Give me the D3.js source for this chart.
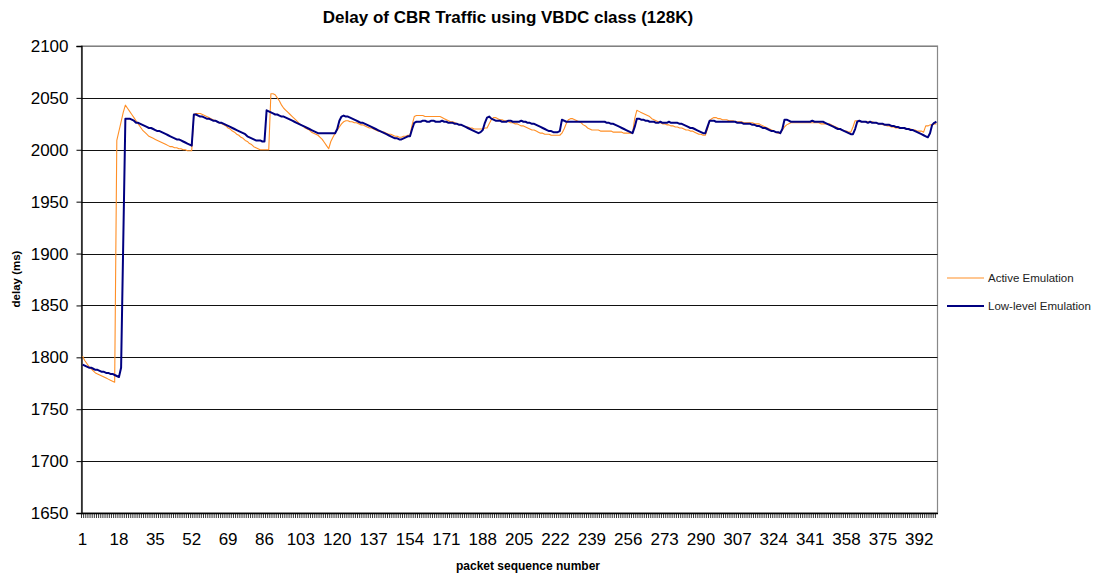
<!DOCTYPE html>
<html>
<head>
<meta charset="utf-8">
<script src="https://cdn.jsdelivr.net/npm/d3@7"></script>
<style>
  html, body { margin: 0; padding: 0; background: #fff; }
  svg { display: block; font-family: "Liberation Sans", Arial, sans-serif; }
</style>
</head>
<body>
<svg id="chart" width="1096" height="575"></svg>
<script>
// Packet sequence numbers 1..400
const packets = d3.range(1, 401);

// Delay (ms) per packet, Active Emulation
const activeEmulation = [
  1801,1797,1794,1791,1789,1787,1785,1784,1783,1782,
  1781,1780,1779,1778,1777,1776,2009,2018,2027,2036,
  2043,2040,2037,2034,2031,2028,2025,2022,2019,2017,
  2015,2013,2012,2011,2010,2009,2008,2007,2006,2005,
  2004,2003,2003,2002,2002,2001,2001,2000,2000,1999,
  1999,1999,2034,2035,2035,2035,2034,2033,2032,2031,
  2030,2029,2028,2027,2026,2025,2024,2023,2021,2020,
  2018,2017,2015,2014,2012,2011,2009,2008,2006,2005,
  2003,2002,2001,2000,2000,2000,2000,2000,2054,2054,
  2053,2050,2047,2043,2040,2038,2036,2034,2032,2030,
  2028,2026,2024,2023,2021,2020,2019,2017,2016,2015,
  2014,2012,2010,2007,2004,2001,2008,2012,2016,2019,
  2022,2025,2027,2028,2028,2027,2027,2026,2026,2025,
  2024,2024,2023,2022,2021,2021,2020,2019,2018,2018,
  2017,2017,2016,2015,2015,2014,2013,2013,2012,2012,
  2013,2013,2014,2014,2024,2032,2033,2033,2033,2033,
  2032,2032,2032,2032,2032,2032,2032,2032,2031,2030,
  2029,2028,2027,2027,2026,2025,2024,2024,2023,2022,
  2022,2021,2021,2020,2020,2020,2020,2020,2021,2021,
  2025,2029,2031,2031,2030,2029,2029,2028,2028,2027,
  2026,2026,2025,2025,2024,2023,2023,2022,2021,2020,
  2019,2019,2018,2017,2016,2016,2015,2015,2015,2014,
  2014,2014,2014,2014,2016,2020,2025,2029,2030,2030,
  2029,2028,2027,2026,2024,2023,2021,2020,2019,2019,
  2019,2019,2018,2018,2018,2018,2018,2018,2017,2017,
  2017,2017,2017,2016,2016,2016,2016,2016,2030,2038,
  2037,2036,2035,2034,2033,2032,2030,2029,2028,2027,
  2026,2025,2025,2024,2024,2023,2023,2022,2022,2021,
  2021,2020,2019,2019,2018,2018,2017,2016,2015,2015,
  2014,2014,2020,2028,2030,2031,2031,2030,2030,2029,
  2029,2029,2028,2028,2028,2027,2027,2027,2027,2026,
  2026,2026,2026,2026,2025,2025,2025,2024,2023,2022,
  2021,2020,2019,2018,2017,2016,2016,2019,2022,2024,
  2025,2026,2026,2026,2026,2026,2026,2026,2026,2026,
  2026,2026,2026,2026,2026,2025,2025,2025,2025,2025,
  2024,2023,2022,2021,2020,2019,2018,2018,2017,2017,
  2022,2028,2028,2027,2027,2027,2027,2027,2027,2027,
  2026,2026,2025,2025,2024,2024,2023,2023,2022,2022,
  2021,2021,2021,2021,2021,2020,2020,2020,2019,2019,
  2018,2018,2018,2017,2023,2023,2024,2024,2025,2025
];

// Delay (ms) per packet, Low-level Emulation
const lowLevelEmulation = [
  1793,1792,1791,1790,1790,1789,1788,1788,1787,1786,
  1786,1785,1785,1784,1784,1783,1782,1781,1790,1910,
  2030,2030,2030,2029,2028,2026,2026,2025,2024,2023,
  2022,2021,2021,2020,2019,2018,2018,2017,2016,2015,
  2014,2013,2012,2011,2010,2010,2009,2008,2007,2006,
  2005,2004,2034,2034,2033,2032,2032,2031,2030,2030,
  2029,2028,2028,2027,2026,2026,2025,2024,2023,2022,
  2021,2020,2019,2018,2017,2016,2015,2013,2012,2011,
  2010,2009,2009,2009,2008,2008,2038,2037,2036,2035,
  2034,2034,2033,2032,2032,2031,2030,2029,2028,2027,
  2026,2025,2024,2023,2022,2021,2020,2019,2018,2017,
  2016,2016,2016,2016,2016,2016,2016,2016,2016,2020,
  2028,2032,2033,2032,2032,2031,2030,2029,2028,2027,
  2026,2026,2025,2024,2023,2022,2021,2020,2019,2018,
  2017,2016,2015,2014,2013,2012,2011,2011,2010,2010,
  2011,2012,2013,2013,2020,2026,2027,2027,2027,2028,
  2028,2027,2027,2028,2028,2027,2027,2027,2028,2027,
  2027,2026,2026,2026,2025,2025,2024,2024,2023,2022,
  2021,2020,2019,2018,2017,2016,2017,2019,2026,2031,
  2032,2030,2029,2028,2028,2028,2027,2027,2027,2028,
  2028,2027,2027,2027,2027,2028,2027,2027,2026,2026,
  2025,2025,2024,2023,2022,2021,2020,2019,2018,2018,
  2017,2017,2017,2018,2029,2028,2027,2027,2027,2027,
  2027,2027,2027,2027,2027,2027,2027,2027,2027,2027,
  2027,2027,2027,2027,2027,2026,2026,2025,2025,2024,
  2023,2022,2021,2020,2019,2018,2017,2016,2022,2030,
  2030,2029,2029,2028,2028,2027,2027,2027,2026,2026,
  2027,2026,2026,2026,2027,2026,2026,2026,2026,2025,
  2025,2024,2023,2022,2021,2021,2020,2019,2018,2017,
  2016,2016,2022,2028,2028,2028,2027,2027,2027,2027,
  2027,2027,2027,2027,2027,2027,2026,2026,2026,2025,
  2025,2025,2025,2024,2024,2023,2023,2022,2021,2021,
  2020,2019,2018,2018,2017,2017,2016,2020,2029,2029,
  2028,2027,2027,2027,2027,2027,2027,2027,2027,2027,
  2027,2028,2027,2027,2027,2027,2027,2026,2025,2024,
  2023,2022,2021,2020,2020,2019,2018,2017,2016,2015,
  2015,2020,2027,2028,2027,2027,2027,2026,2027,2026,
  2026,2026,2025,2025,2025,2024,2024,2024,2023,2023,
  2022,2022,2021,2021,2021,2020,2020,2019,2019,2018,
  2017,2016,2015,2014,2013,2012,2016,2024,2026,2027
];

const yTicks = [1650, 1700, 1750, 1800, 1850, 1900, 1950, 2000, 2050, 2100];
const xLabelStep = 17; // every 17th packet number is labelled: 1, 18, 35, ...

const seriesNames = ["Active Emulation", "Low-level Emulation"];
const seriesColors = ["#FF8F26", "#000080"];
const seriesWidths = [1.1, 2];

const svg = d3.select("#chart");
const plot = { left: 81.5, right: 937.5, top: 46, bottom: 513 };

const x = d3.scaleBand().domain(packets).range([plot.left, plot.right]).padding(0);
const y = d3.scaleLinear().domain([1650, 2100]).range([plot.bottom, plot.top]);

// Plot area
svg.append("rect")
  .attr("x", plot.left).attr("y", plot.top)
  .attr("width", plot.right - plot.left).attr("height", plot.bottom - plot.top)
  .attr("fill", "#fff").attr("stroke", "#888").attr("stroke-width", 1.2);

// Horizontal gridlines
svg.append("g")
  .selectAll("line")
  .data(yTicks.filter(d => d > 1650))
  .join("line")
  .attr("x1", plot.left).attr("x2", plot.right)
  .attr("y1", d => Math.round(y(d)) + 0.5).attr("y2", d => Math.round(y(d)) + 0.5)
  .attr("stroke", d => d === 2100 ? "#808080" : "#111")
  .attr("stroke-width", 1);

// Y axis
const yAxis = d3.axisLeft(y).tickValues(yTicks).tickSize(5).tickPadding(8).tickFormat(d3.format("d"));
const gy = svg.append("g").attr("transform", `translate(${plot.left},0)`).call(yAxis);
gy.select(".domain").attr("stroke", "#000").attr("stroke-width", 1.3);
gy.selectAll(".tick line").attr("stroke", "#000");
gy.selectAll(".tick text")
  .attr("font-size", 17).attr("fill", "#000")
  .attr("font-family", "'Liberation Sans', Arial, sans-serif");

// X axis: a tick between every category, labels every 17th packet
const xAxis = d3.axisBottom(x)
  .tickValues(packets.filter(d => (d - 1) % xLabelStep === 0))
  .tickSize(0).tickPadding(20);
const gx = svg.append("g").attr("transform", `translate(0,${plot.bottom})`).call(xAxis);
gx.select(".domain").attr("stroke", "#000").attr("stroke-width", 1.3);
gx.selectAll(".tick text")
  .attr("font-size", 17).attr("fill", "#000")
  .attr("font-family", "'Liberation Sans', Arial, sans-serif");

svg.append("g")
  .selectAll("line")
  .data(packets)
  .join("line")
  .attr("x1", d => x(d)).attr("x2", d => x(d))
  .attr("y1", plot.bottom).attr("y2", plot.bottom + 5)
  .attr("stroke", "#000").attr("stroke-width", 0.8);

// Series lines
const seriesData = [activeEmulation, lowLevelEmulation];
const line = d3.line()
  .x((d, i) => x(packets[i]) + x.bandwidth() / 2)
  .y(d => y(d));

seriesData.forEach((values, k) => {
  svg.append("path")
    .datum(values)
    .attr("fill", "none")
    .attr("stroke", seriesColors[k])
    .attr("stroke-width", seriesWidths[k])
    .attr("stroke-linejoin", "round")
    .attr("d", line);
});

// Title
svg.append("text")
  .attr("x", 508).attr("y", 23)
  .attr("text-anchor", "middle")
  .attr("font-size", 17).attr("font-weight", "bold")
  .text("Delay of CBR Traffic using VBDC class (128K)");

// Axis titles
svg.append("text")
  .attr("transform", "translate(20,279) rotate(-90)")
  .attr("text-anchor", "middle")
  .attr("font-size", 11.5).attr("font-weight", "bold")
  .text("delay (ms)");

svg.append("text")
  .attr("x", 528).attr("y", 570)
  .attr("text-anchor", "middle")
  .attr("font-size", 12).attr("font-weight", "bold")
  .text("packet sequence number");

// Legend
const legend = svg.append("g");
const legendY = [278, 306];
seriesNames.forEach((name, k) => {
  legend.append("line")
    .attr("x1", 947).attr("x2", 984)
    .attr("y1", legendY[k]).attr("y2", legendY[k])
    .attr("stroke", seriesColors[k]).attr("stroke-width", seriesWidths[k]);
  legend.append("text")
    .attr("x", 988).attr("y", legendY[k] + 4)
    .attr("font-size", 11.5).attr("fill", "#222")
    .text(name);
});
</script>
</body>
</html>
